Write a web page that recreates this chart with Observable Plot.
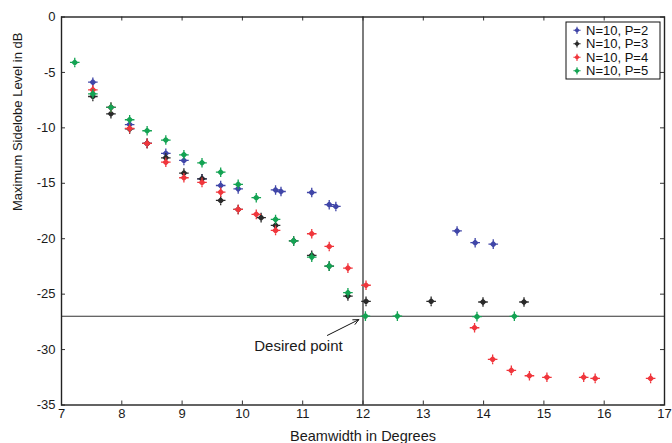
<!DOCTYPE html>
<html><head><meta charset="utf-8">
<script src="https://cdn.jsdelivr.net/npm/d3@7"></script>
<script src="https://cdn.jsdelivr.net/npm/@observablehq/plot@0.6"></script>
<style>body{margin:0;background:#fff}#chart{width:672px;height:443px}</style>
</head><body><div id="chart"></div>
<script>
const seriesNames = ["N=10, P=2", "N=10, P=3", "N=10, P=4", "N=10, P=5"];
const seriesColors = ["#4046a8", "#2a2a2a", "#f0363c", "#14a353"];

const p2x = [7.52, 7.82, 8.13, 8.42, 8.73, 9.03, 9.33, 9.64, 9.93, 10.55, 10.64, 11.15, 11.44, 11.55, 13.56, 13.86, 14.16];
const p2y = [-5.88, -8.15, -9.7, -11.4, -12.3, -12.94, -14.6, -15.2, -15.5, -15.6, -15.74, -15.83, -16.93, -17.09, -19.3, -20.36, -20.49];

const p3x = [7.52, 7.82, 8.13, 8.42, 8.73, 9.03, 9.33, 9.64, 9.93, 10.31, 10.55, 10.85, 11.15, 11.44, 11.75, 12.05, 13.13, 13.99, 14.67];
const p3y = [-7.17, -8.73, -10.1, -11.4, -12.7, -14.08, -14.6, -16.55, -17.36, -18.1, -18.8, -20.2, -21.5, -22.47, -25.17, -25.65, -25.65, -25.71, -25.71];

const p4x = [7.52, 7.82, 8.13, 8.42, 8.73, 9.03, 9.33, 9.64, 9.93, 10.23, 10.55, 11.15, 11.44, 11.75, 12.05, 13.85, 14.15, 14.46, 14.76, 15.05, 15.66, 15.85, 16.77];
const p4y = [-6.57, -8.15, -10.05, -11.4, -13.1, -14.5, -14.92, -15.8, -17.36, -17.8, -19.25, -19.55, -20.7, -22.65, -24.2, -28.03, -30.88, -31.88, -32.36, -32.5, -32.5, -32.6, -32.6];

const p5x = [7.22, 7.52, 7.82, 8.13, 8.42, 8.73, 9.03, 9.33, 9.64, 9.93, 10.23, 10.55, 10.85, 11.15, 11.44, 11.75, 12.04, 12.57, 13.89, 14.51];
const p5y = [-4.1, -6.93, -8.15, -9.27, -10.26, -11.1, -12.43, -13.15, -14.0, -15.1, -16.3, -18.26, -20.2, -21.66, -22.47, -24.87, -26.98, -26.98, -27.03, -27.0];

const xTicks = [7, 8, 9, 10, 11, 12, 13, 14, 15, 16, 17];
const yTicks = [0, -5, -10, -15, -20, -25, -30, -35];

const desiredX = [12];
const desiredY = [-27];
const annotationText = ["Desired point"];
const annotationX = [10.93];
const annotationY = [-29.7];
const arrowStart = [11.41, -28.72];
const arrowEnd = [11.93, -27.3];

const xLabel = "Beamwidth in Degrees";
const yLabel = "Maximum Sidelobe Level in dB";

const seriesX = [p2x, p3x, p4x, p5x];
const seriesY = [p2y, p3y, p4y, p5y];
const data = seriesX.flatMap((xs, s) => xs.map((x, i) => ({x, y: seriesY[s][i], s: seriesNames[s]})));

const starSymbol = {
  draw(ctx, size) {
    const r = Math.sqrt(size / Math.PI);
    const d = r * 0.55;
    ctx.moveTo(-r, 0); ctx.lineTo(r, 0);
    ctx.moveTo(0, -r); ctx.lineTo(0, r);
    ctx.moveTo(-d, 0); ctx.lineTo(0, -d); ctx.lineTo(d, 0); ctx.lineTo(0, d); ctx.closePath();
  }
};
function markerPath(r) {
  const p = d3.path();
  starSymbol.draw(p, r * r * Math.PI);
  return p.toString();
}

const font = "Liberation Sans, Arial, Helvetica, sans-serif";
const W = 672, H = 443, ML = 61, MR = 8, MT = 16.5, MB = 38.5;
const innerW = W - ML - MR, innerH = H - MT - MB, tickLen = 4;

function legendMark(index, scales, values, dims) {
  const g = d3.create("svg:g").attr("font-family", font).attr("font-size", 13).attr("text-anchor", "start");
  const w = 94, h = 57;
  const x0 = dims.width - dims.marginRight - 4 - w, y0 = dims.marginTop + 5.5;
  g.append("rect").attr("x", x0).attr("y", y0).attr("width", w).attr("height", h)
    .attr("fill", "white").attr("stroke", "#111").attr("stroke-width", 1);
  seriesNames.forEach((name, i) => {
    const cy = y0 + 8.3 + i * 13.5;
    g.append("path").attr("d", markerPath(3.6)).attr("transform", `translate(${x0 + 11},${cy})`)
      .attr("fill", seriesColors[i]).attr("stroke", seriesColors[i]).attr("stroke-width", 1.1);
    g.append("text").attr("x", x0 + 20).attr("y", cy).attr("dy", "0.36em").attr("fill", "#111").text(name);
  });
  return g.node();
}

const plot = Plot.plot({
  width: W,
  height: H,
  marginLeft: ML,
  marginRight: MR,
  marginTop: MT,
  marginBottom: MB,
  style: {fontFamily: font, fontSize: "13px", color: "#1a1a1a", background: "white"},
  x: {domain: [7, 17], label: null},
  y: {domain: [-35, 0], label: null},
  color: {domain: seriesNames, range: seriesColors},
  marks: [
    Plot.ruleY(desiredY, {stroke: "#333", strokeWidth: 1.1}),
    Plot.ruleX(desiredX, {stroke: "#111", strokeWidth: 1.1}),
    Plot.axisX({ticks: xTicks, anchor: "bottom", tickSize: 0, tickPadding: 4, tickFormat: d => String(d), label: null}),
    Plot.axisY({ticks: yTicks, anchor: "left", tickSize: 0, tickPadding: 6, tickFormat: d => String(d), label: null}),
    Plot.tickX(xTicks, {x: d => d, insetTop: innerH - tickLen, stroke: "#333", strokeWidth: 1}),
    Plot.tickX(xTicks, {x: d => d, insetBottom: innerH - tickLen, stroke: "#333", strokeWidth: 1}),
    Plot.tickY(yTicks, {y: d => d, insetRight: innerW - tickLen, stroke: "#333", strokeWidth: 1}),
    Plot.tickY(yTicks, {y: d => d, insetLeft: innerW - tickLen, stroke: "#333", strokeWidth: 1}),
    Plot.frame({stroke: "#222", strokeWidth: 1.4}),
    Plot.dot(data, {x: "x", y: "y", stroke: "s", fill: "s", symbol: starSymbol, r: 4.8, strokeWidth: 1.3}),
    Plot.arrow([0], {x1: () => arrowStart[0], y1: () => arrowStart[1], x2: () => arrowEnd[0], y2: () => arrowEnd[1], stroke: "#111", strokeWidth: 1, headLength: 9, headAngle: 50}),
    Plot.text(annotationText, {x: annotationX, y: annotationY, text: d => d, fontSize: 15, fill: "#1a1a1a"}),
    Plot.text([xLabel], {frameAnchor: "bottom", dy: 31, fontSize: 14.5, fill: "#1a1a1a", lineAnchor: "middle"}),
    Plot.text([yLabel], {frameAnchor: "left", dx: -44, rotate: -90, fontSize: 13, fill: "#1a1a1a", lineAnchor: "middle"}),
    legendMark
  ]
});
document.getElementById("chart").append(plot);
</script>
</body></html>
